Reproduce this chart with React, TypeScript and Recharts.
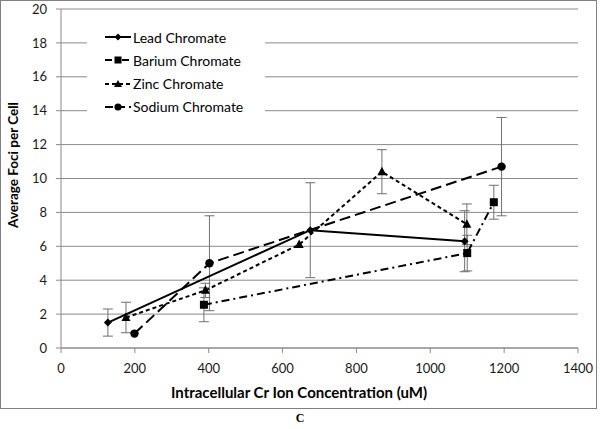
import React from 'react';
import { ScatterChart, Scatter, XAxis, YAxis, CartesianGrid, ErrorBar, Label } from 'recharts';

const leadX = [127, 675, 1093];
const leadY = [1.5, 6.95, 6.3];
const leadErr = [0.8, 2.8, 1.8];

const bariumX = [387, 1100, 1172];
const bariumY = [2.55, 5.6, 8.6];
const bariumErr = [1.0, 1.05, 1.0];

const zincX = [176, 391, 645, 869, 1099];
const zincY = [1.8, 3.4, 6.1, 10.4, 7.3];
const zincErr = [0.9, 0.42, 0, 1.3, 1.2];

const sodiumX = [199, 402, 1193];
const sodiumY = [0.85, 5.0, 10.7];
const sodiumErr = [0, 2.8, 2.9];

const xTicks = [0, 200, 400, 600, 800, 1000, 1200, 1400];
const yTicks = [0, 2, 4, 6, 8, 10, 12, 14, 16, 18, 20];

const seriesNames = ['Lead Chromate', 'Barium Chromate', 'Zinc Chromate', 'Sodium Chromate'];

const build = (xs: number[], ys: number[], es: number[]) =>
  xs.map((x, i) => ({ x, y: ys[i], err: es[i] }));

const leadData = build(leadX, leadY, leadErr);
const bariumData = build(bariumX, bariumY, bariumErr);
const zincData = build(zincX, zincY, zincErr);
const sodiumData = build(sodiumX, sodiumY, sodiumErr);

const FONT = 'Lato, "Open Sans", sans-serif';
const GRID = '#8a8a8a';

const Diamond = (p: any) => (
  <path d={`M${p.cx},${p.cy - 4} L${p.cx + 4},${p.cy} L${p.cx},${p.cy + 4} L${p.cx - 4},${p.cy} Z`} fill="#000" />
);
const Square = (p: any) => <rect x={p.cx - 4} y={p.cy - 4} width={8} height={8} fill="#000" />;
const Triangle = (p: any) => (
  <path d={`M${p.cx},${p.cy - 5} L${p.cx + 4.5},${p.cy + 3.5} L${p.cx - 4.5},${p.cy + 3.5} Z`} fill="#000" />
);
const Circle = (p: any) => <circle cx={p.cx} cy={p.cy} r={4.2} fill="#000" />;

const dashes = ['', '8 4 2 4', '4 3', '11 5'];
const markers = ['diamond', 'square', 'triangle', 'circle'];

const LegendMarker = ({ kind }: { kind: string }) => {
  const cx = 14, cy = 6;
  if (kind === 'diamond') return <path d={`M${cx},${cy - 3.5} L${cx + 3.5},${cy} L${cx},${cy + 3.5} L${cx - 3.5},${cy} Z`} fill="#000" />;
  if (kind === 'square') return <rect x={cx - 3.5} y={cy - 3.5} width={7} height={7} fill="#000" />;
  if (kind === 'triangle') return <path d={`M${cx},${cy - 4} L${cx + 4},${cy + 3} L${cx - 4},${cy + 3} Z`} fill="#000" />;
  return <circle cx={cx} cy={cy} r={3.6} fill="#000" />;
};

export default function App() {
  return (
    <div style={{ position: 'absolute', left: 0, top: 0, width: 600, height: 429, background: '#fff', fontFamily: FONT }}>
      <div style={{ position: 'absolute', left: 0, top: 0, width: 597, height: 409, border: '1px solid #808080', boxSizing: 'border-box' }} />
      <div style={{ position: 'absolute', left: 0, top: 0 }}>
        <ScatterChart width={600} height={409} margin={{ top: 9, right: 22, bottom: 11, left: 0 }}>
          <CartesianGrid horizontal vertical={false} stroke={GRID} strokeWidth={1} />
          <XAxis
            type="number"
            dataKey="x"
            domain={[0, 1400]}
            ticks={xTicks}
            interval={0}
            height={50}
            axisLine={{ stroke: GRID }}
            tickLine={{ stroke: GRID }}
            tickSize={5}
            tick={{ fill: '#1a1a1a', fontSize: 13, fontFamily: FONT, dy: 9 }}
          >
            <Label
              content={() => (
                <text x={299} y={398} textAnchor="middle" fontFamily={FONT} fontWeight="bold" fontSize={15} fill="#000">
                  Intracellular Cr Ion Concentration (uM)
                </text>
              )}
            />
          </XAxis>
          <YAxis
            type="number"
            dataKey="y"
            domain={[0, 20]}
            ticks={yTicks}
            interval={0}
            width={61}
            axisLine={{ stroke: GRID }}
            tickLine={{ stroke: GRID }}
            tickSize={5}
            tick={{ fill: '#1a1a1a', fontSize: 13, fontFamily: FONT, dx: -7 }}
          >
            <Label
              content={() => (
                <text
                  x={18}
                  y={165}
                  textAnchor="middle"
                  transform="rotate(-90 18 165)"
                  fontFamily={FONT}
                  fontWeight="bold"
                  fontSize={13.5}
                  fill="#000"
                >
                  Average Foci per Cell
                </text>
              )}
            />
          </YAxis>
          <Scatter
            name={seriesNames[0]}
            data={leadData}
            fill="#000"
            line={{ stroke: '#000', strokeWidth: 2 }}
            lineType="joint"
            shape={Diamond}
            isAnimationActive={false}
          >
            <ErrorBar dataKey="err" direction="y" width={5} stroke="#707070" strokeWidth={1} />
          </Scatter>
          <Scatter
            name={seriesNames[1]}
            data={bariumData}
            fill="#000"
            line={{ stroke: '#000', strokeWidth: 2, strokeDasharray: dashes[1] }}
            lineType="joint"
            shape={Square}
            isAnimationActive={false}
          >
            <ErrorBar dataKey="err" direction="y" width={5} stroke="#707070" strokeWidth={1} />
          </Scatter>
          <Scatter
            name={seriesNames[2]}
            data={zincData}
            fill="#000"
            line={{ stroke: '#000', strokeWidth: 2, strokeDasharray: dashes[2] }}
            lineType="joint"
            shape={Triangle}
            isAnimationActive={false}
          >
            <ErrorBar dataKey="err" direction="y" width={5} stroke="#707070" strokeWidth={1} />
          </Scatter>
          <Scatter
            name={seriesNames[3]}
            data={sodiumData}
            fill="#000"
            line={{ stroke: '#000', strokeWidth: 2, strokeDasharray: dashes[3] }}
            lineType="joint"
            shape={Circle}
            isAnimationActive={false}
          >
            <ErrorBar dataKey="err" direction="y" width={5} stroke="#707070" strokeWidth={1} />
          </Scatter>
        </ScatterChart>
      </div>
      <div style={{ position: 'absolute', left: 87, top: 26, width: 178, height: 94, background: '#fff' }}>
        {seriesNames.map((n, i) => (
          <div key={n} style={{ position: 'absolute', left: 17, top: 4 + i * 23.3, height: 14, display: 'flex', alignItems: 'center' }}>
            <svg width={28} height={12} style={{ display: 'block' }}>
              <line x1={1} y1={6} x2={27} y2={6} stroke="#000" strokeWidth={2} strokeDasharray={dashes[i] ? (i === 1 ? '7 4 2 4' : i === 2 ? '4 3' : '8 4') : undefined} />
              <LegendMarker kind={markers[i]} />
            </svg>
            <span style={{ fontSize: 14, marginLeft: 1, color: '#000', whiteSpace: 'nowrap' }}>{n}</span>
          </div>
        ))}
      </div>
      <div style={{ position: 'absolute', left: 0, width: 600, top: 411, textAlign: 'center', fontFamily: '"Liberation Serif", serif', fontWeight: 'bold', fontSize: 12 }}>
        C
      </div>
    </div>
  );
}
